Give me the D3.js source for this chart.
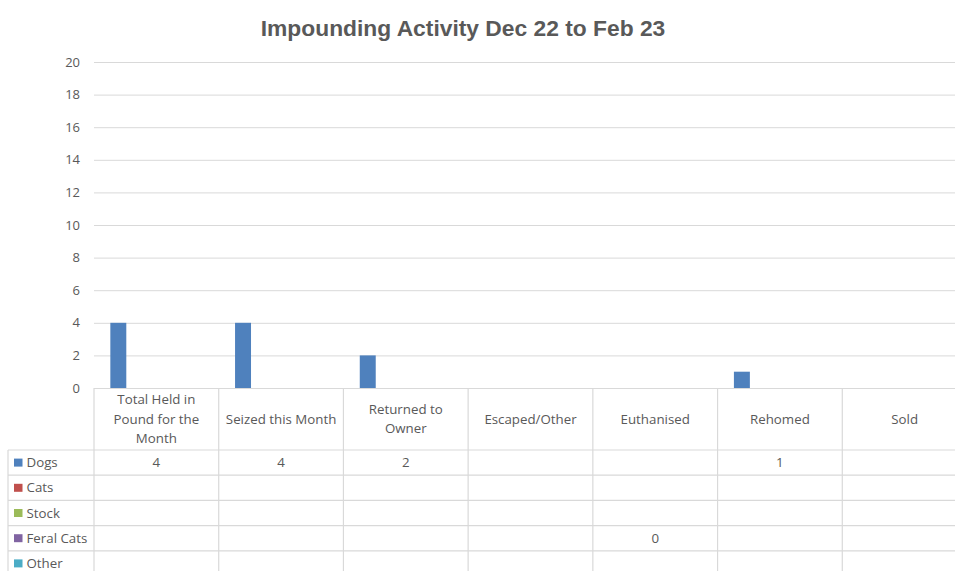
<!DOCTYPE html>
<html>
<head>
<meta charset="utf-8">
<script src="https://cdn.jsdelivr.net/npm/d3@7"></script>
<style>
  body { margin: 0; background: #fff; }
  svg { display: block; font-family: "Open Sans", "Noto Sans", sans-serif; }
</style>
</head>
<body>
<div class="canvas"></div>
<script>
// data
const categories = [
  ['Total Held in', 'Pound for the', 'Month'],
  ['Seized this Month'],
  ['Returned to', 'Owner'],
  ['Escaped/Other'],
  ['Euthanised'],
  ['Rehomed'],
  ['Sold']
];
const seriesNames = ['Dogs', 'Cats', 'Stock', 'Feral Cats', 'Other'];
const seriesColors = ['#4f81bd', '#c0504d', '#9bbb59', '#8064a2', '#4bacc6'];
const dogs = [4, 4, 2, null, null, 1, null];
const cats = [null, null, null, null, null, null, null];
const stock = [null, null, null, null, null, null, null];
const feralCats = [null, null, null, null, 0, null, null];
const other = [null, null, null, null, null, null, null];
const yTicks = [0, 2, 4, 6, 8, 10, 12, 14, 16, 18, 20];

const seriesValues = [dogs, cats, stock, feralCats, other];

//============ set up ============//
const width = 955, height = 571;
const plotLeft = 94, plotRight = 967, plotTop = 62, plotBottom = 388;
const headerBottom = 450, rowH = 25.2, legendLeft = 8;

const svg = d3.select('.canvas')
  .append('svg')
  .attr('width', width)
  .attr('height', height);

const x = d3.scaleBand()
  .domain(d3.range(categories.length))
  .range([plotLeft, plotRight]);

const bw = x.bandwidth();
const xs = d3.scaleBand()
  .domain(d3.range(seriesNames.length))
  .range([bw * 0.131, bw * 0.131 + bw * 0.128 * seriesNames.length]);

const y = d3.scaleLinear()
  .domain([0, 20])
  .range([plotBottom, plotTop]);

// title
svg.append('text')
  .attr('x', 463)
  .attr('y', 36)
  .attr('text-anchor', 'middle')
  .attr('font-family', '"Liberation Sans", Arial, sans-serif')
  .attr('font-weight', 'bold')
  .attr('font-size', 22.8)
  .attr('fill', '#595959')
  .text('Impounding Activity Dec 22 to Feb 23');

// gridlines
const yAxis = d3.axisLeft(y)
  .tickValues(yTicks)
  .tickSize(-(plotRight - plotLeft))
  .tickPadding(14);

const yAxisGroup = svg.append('g')
  .attr('transform', `translate(${plotLeft},0)`)
  .call(yAxis);
yAxisGroup.select('.domain').remove();
yAxisGroup.selectAll('line').attr('stroke', '#d9d9d9');
yAxisGroup.selectAll('text')
  .attr('fill', '#595959')
  .attr('font-size', 13)
  .attr('font-family', '"Open Sans", sans-serif');

// bars
const barData = [];
seriesValues.forEach((vals, s) => vals.forEach((v, i) => {
  if (v !== null) barData.push({ s, i, v });
}));

svg.append('g').selectAll('rect')
  .data(barData)
  .enter()
  .append('rect')
  .attr('x', d => x(d.i) + xs(d.s))
  .attr('width', xs.bandwidth())
  .attr('y', d => y(d.v))
  .attr('height', d => y(0) - y(d.v))
  .attr('fill', d => seriesColors[d.s]);

//============ data table ============//
const table = svg.append('g');
const lineColor = '#d9d9d9';
const tableBottom = headerBottom + rowH * seriesNames.length;

// horizontal row lines
d3.range(seriesNames.length + 1).forEach(r => {
  table.append('line')
    .attr('x1', legendLeft).attr('x2', plotRight)
    .attr('y1', headerBottom + r * rowH).attr('y2', headerBottom + r * rowH)
    .attr('stroke', lineColor).attr('stroke-width', 1.2);
});

// vertical lines
d3.range(categories.length + 1).forEach(c => {
  const xx = c < categories.length ? x(c) : plotRight;
  table.append('line')
    .attr('x1', xx).attr('x2', xx)
    .attr('y1', plotBottom).attr('y2', tableBottom + 10)
    .attr('stroke', lineColor).attr('stroke-width', 1.2);
});
table.append('line')
  .attr('x1', legendLeft).attr('x2', legendLeft)
  .attr('y1', headerBottom).attr('y2', tableBottom + 10)
  .attr('stroke', lineColor).attr('stroke-width', 1.2);

// category headers
const lineH = 19.5;
categories.forEach((lines, i) => {
  const cy = (plotBottom + headerBottom) / 2;
  const t = table.append('text')
    .attr('text-anchor', 'middle')
    .attr('font-size', 13.3)
    .attr('fill', '#595959');
  lines.forEach((ln, k) => {
    t.append('tspan')
      .attr('x', x(i) + bw / 2)
      .attr('y', cy + (k - (lines.length - 1) / 2) * lineH + 4.5)
      .text(ln);
  });
});

// legend + values
seriesNames.forEach((name, s) => {
  const ry = headerBottom + s * rowH + rowH / 2;
  table.append('rect')
    .attr('x', 14).attr('y', ry - 4)
    .attr('width', 8.5).attr('height', 8)
    .attr('fill', seriesColors[s]);
  table.append('text')
    .attr('x', 26.5).attr('y', ry + 4.5)
    .attr('font-size', 13.3)
    .attr('fill', '#595959')
    .text(name);
  seriesValues[s].forEach((v, i) => {
    if (v === null) return;
    table.append('text')
      .attr('x', x(i) + bw / 2).attr('y', ry + 4.5)
      .attr('text-anchor', 'middle')
      .attr('font-size', 13.3)
      .attr('fill', '#595959')
      .text(v);
  });
});
</script>
</body>
</html>
